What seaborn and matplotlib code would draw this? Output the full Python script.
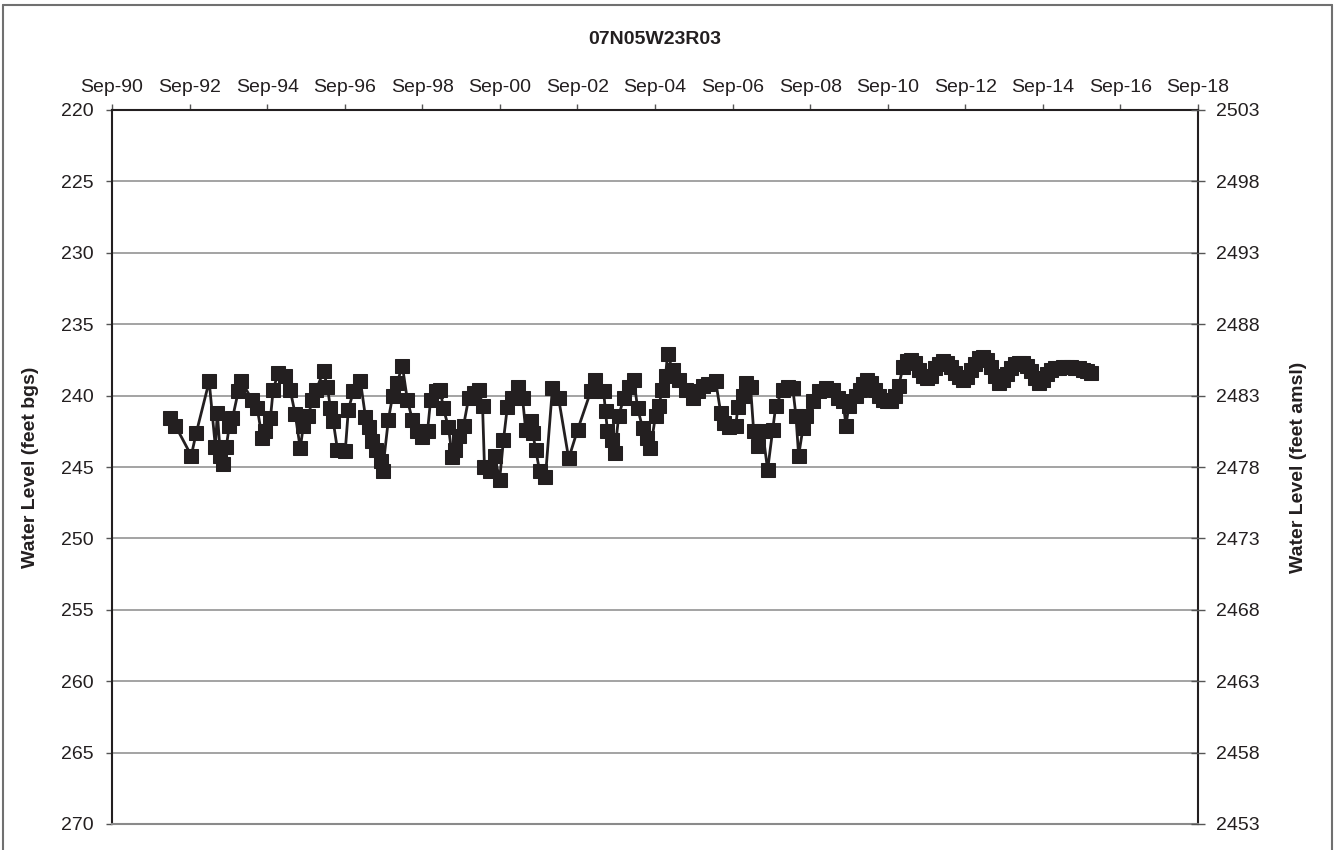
import numpy as np
import pandas as pd
import matplotlib
matplotlib.use("Agg")
import matplotlib.pyplot as plt
import matplotlib.dates as mdates
from matplotlib.lines import Line2D
import seaborn as sns

title = "07N05W23R03"
left_label = "Water Level (feet bgs)"
right_label = "Water Level (feet amsl)"

# decimal-year dates of the measurements
dec_years = [
    1992.17, 1992.30, 1992.71, 1992.84, 1993.17, 1993.33, 1993.38, 1993.46, 1993.53, 1993.61,
    1993.69, 1993.77, 1993.92, 1994.00, 1994.28, 1994.41, 1994.54, 1994.62, 1994.75, 1994.82,
    1994.95, 1995.13, 1995.26, 1995.39, 1995.52, 1995.60, 1995.73, 1995.83, 1995.93, 1996.12,
    1996.22, 1996.30, 1996.37, 1996.48, 1996.68, 1996.76, 1996.89, 1997.07, 1997.20, 1997.28,
    1997.38, 1997.46, 1997.59, 1997.64, 1997.79, 1997.90, 1998.02, 1998.15, 1998.28, 1998.41,
    1998.54, 1998.67, 1998.80, 1998.88, 1999.01, 1999.13, 1999.21, 1999.34, 1999.44, 1999.52,
    1999.60, 1999.73, 1999.86, 1999.99, 2000.12, 2000.22, 2000.27, 2000.40, 2000.53, 2000.66,
    2000.76, 2000.86, 2000.99, 2001.12, 2001.25, 2001.33, 2001.46, 2001.51, 2001.59, 2001.69,
    2001.84, 2002.02, 2002.18, 2002.44, 2002.67, 2003.01, 2003.13, 2003.34, 2003.39, 2003.44,
    2003.57, 2003.63, 2003.73, 2003.86, 2003.99, 2004.12, 2004.22, 2004.35, 2004.45, 2004.55,
    2004.68, 2004.76, 2004.86, 2004.94, 2004.99, 2005.12, 2005.28, 2005.46, 2005.64, 2005.77,
    2005.90, 2006.02, 2006.23, 2006.36, 2006.44, 2006.57, 2006.75, 2006.80, 2006.93, 2007.01,
    2007.13, 2007.21, 2007.32, 2007.44, 2007.57, 2007.70, 2007.78, 2007.96, 2008.09, 2008.22,
    2008.30, 2008.37, 2008.48, 2008.55, 2008.73, 2008.89, 2009.07, 2009.25, 2009.38, 2009.51,
    2009.59, 2009.66, 2009.84, 2009.95, 2010.02, 2010.13, 2010.23, 2010.33, 2010.44, 2010.54,
    2010.64, 2010.75, 2010.85, 2010.95, 2011.06, 2011.16, 2011.26, 2011.37, 2011.47, 2011.57,
    2011.68, 2011.78, 2011.88, 2011.99, 2012.09, 2012.19, 2012.30, 2012.40, 2012.50, 2012.61,
    2012.71, 2012.81, 2012.92, 2013.02, 2013.12, 2013.22, 2013.33, 2013.43, 2013.53, 2013.64,
    2013.74, 2013.84, 2013.95, 2014.05, 2014.15, 2014.26, 2014.36, 2014.46, 2014.57, 2014.67,
    2014.77, 2014.88, 2014.98, 2015.08, 2015.19, 2015.29, 2015.39, 2015.50, 2015.60, 2015.70,
    2015.81, 2015.91,
]

# depth to water, feet below ground surface
water_level_bgs = [
    241.6, 242.1, 244.2, 242.6, 239.0, 243.6, 241.2, 244.2, 244.8, 243.6,
    242.1, 241.6, 239.7, 239.0, 240.3, 240.9, 243.0, 242.5, 241.6, 239.6,
    238.4, 238.6, 239.6, 241.3, 243.7, 242.1, 241.4, 240.3, 239.6, 238.3,
    239.4, 240.9, 241.8, 243.8, 243.9, 241.0, 239.7, 239.0, 241.5, 242.2,
    243.2, 243.8, 244.6, 245.3, 241.7, 240.0, 239.1, 237.9, 240.3, 241.7,
    242.5, 242.9, 242.5, 240.3, 239.7, 239.6, 240.9, 242.2, 244.3, 243.8,
    242.8, 242.1, 240.2, 239.8, 239.6, 240.7, 245.0, 245.3, 244.2, 245.9,
    243.1, 240.8, 240.2, 239.4, 240.2, 242.4, 241.8, 242.6, 243.8, 245.3,
    245.7, 239.5, 240.2, 244.4, 242.4, 239.7, 238.9, 239.7, 241.1, 242.5,
    243.1, 244.0, 241.4, 240.2, 239.4, 238.9, 240.9, 242.3, 243.0, 243.7,
    241.4, 240.7, 239.6, 238.6, 237.1, 238.2, 238.9, 239.6, 240.2, 239.7,
    239.3, 239.2, 239.0, 241.2, 241.9, 242.2, 242.1, 240.8, 240.0, 239.1,
    239.4, 242.5, 243.5, 242.5, 245.2, 242.4, 240.7, 239.6, 239.4, 239.5,
    241.4, 244.2, 242.3, 241.4, 240.4, 239.7, 239.5, 239.6, 240.2, 240.4,
    242.1, 240.7, 240.0, 239.6, 239.2, 238.9, 239.1, 239.6, 240.0, 240.3,
    240.4, 240.4, 240.0, 239.3, 238.0, 237.6, 237.5, 237.7, 238.2, 238.6,
    238.8, 238.6, 238.1, 237.8, 237.6, 237.7, 238.0, 238.4, 238.7, 238.9,
    238.7, 238.2, 237.8, 237.4, 237.3, 237.5, 238.0, 238.6, 239.1, 238.9,
    238.5, 238.1, 237.8, 237.7, 237.7, 237.9, 238.3, 238.8, 239.1, 238.9,
    238.5, 238.2, 238.1, 238.1, 238.0, 238.0, 238.0, 238.1, 238.1, 238.2,
    238.3, 238.4,
]

left_ticks = [220, 225, 230, 235, 240, 245, 250, 255, 260, 265, 270]
right_ticks = [2503, 2498, 2493, 2488, 2483, 2478, 2473, 2468, 2463, 2458, 2453]
x_start, x_end = "1990-09-01", "2018-09-01"

def to_ts(y):
    yi = int(y)
    return pd.Timestamp(yi, 1, 1) + pd.Timedelta(days=(y - yi) * 365.25)

df = pd.DataFrame({"date": [to_ts(y) for y in dec_years], "level": water_level_bgs})

sns.set_style("white")
plt.rcParams["font.family"] = ["Liberation Sans", "DejaVu Sans"]
ink = "#231f20"

W, H = 1335, 850
fig = plt.figure(figsize=(W / 100, H / 100), dpi=100)
ax = fig.add_axes([112 / W, 1 - 824 / H, (1198 - 112) / W, (824 - 110) / H])

sns.lineplot(data=df, x="date", y="level", ax=ax, sort=False, estimator=None,
             color=ink, linewidth=2.0, marker="s", markersize=10.5,
             markeredgecolor=ink, markerfacecolor=ink, zorder=3)

ax.set_ylim(left_ticks[-1], left_ticks[0])
ax.set_yticks(left_ticks)
ax.set_xlim(pd.Timestamp(x_start), pd.Timestamp(x_end))
ax.xaxis.set_major_locator(mdates.MonthLocator(bymonth=9, bymonthday=1, interval=24))
ax.xaxis.set_major_formatter(mdates.DateFormatter("%b-%y"))
ax.xaxis.tick_top()
ax.tick_params(axis="x", which="both", top=True, bottom=False, labeltop=True, labelbottom=False,
               direction="out", length=4.2, width=1.0, color="#555555", pad=6,
               labelsize=14, labelcolor=ink)
ax.tick_params(axis="y", direction="out", length=4.2, width=1.0, color="#555555", pad=9,
               labelsize=14, labelcolor=ink)
ax.set_xlabel("")
ax.set_ylabel(left_label, fontsize=14, fontweight="bold", color=ink, labelpad=16)

ax.grid(axis="y", color="#8a8a8a", linewidth=1.1)
ax.grid(axis="x", visible=False)
for side in ["left", "right", "top"]:
    ax.spines[side].set_color(ink)
    ax.spines[side].set_linewidth(1.5)
ax.spines["bottom"].set_color("#8a8a8a")
ax.spines["bottom"].set_linewidth(1.5)

ax2 = ax.twinx()
ax2.set_ylim(right_ticks[-1], right_ticks[0])
ax2.set_yticks(right_ticks)
ax2.tick_params(axis="y", direction="inout", length=9.5, width=1.0, color="#555555", pad=8,
                labelsize=14, labelcolor=ink)
ax2.set_ylabel(right_label, fontsize=14, fontweight="bold", color=ink, labelpad=22)
for side in ["left", "right", "top", "bottom"]:
    ax2.spines[side].set_visible(False)

fig.text((112 + 1198) / 2 / W, 1 - 40 / H, title, ha="center", va="center",
         fontsize=14, fontweight="bold", color=ink)

# figure frame (left, top, right edges)
bc = "#707070"
fig.add_artist(Line2D([2.5 / W, 2.5 / W], [0, 1 - 4.5 / H], transform=fig.transFigure, color=bc, lw=1.5))
fig.add_artist(Line2D([2.5 / W, 1332 / W], [1 - 4.5 / H, 1 - 4.5 / H], transform=fig.transFigure, color=bc, lw=1.5))
fig.add_artist(Line2D([1332 / W, 1332 / W], [0, 1 - 4.5 / H], transform=fig.transFigure, color=bc, lw=1.5))

fig.savefig("out.png", dpi=100)
